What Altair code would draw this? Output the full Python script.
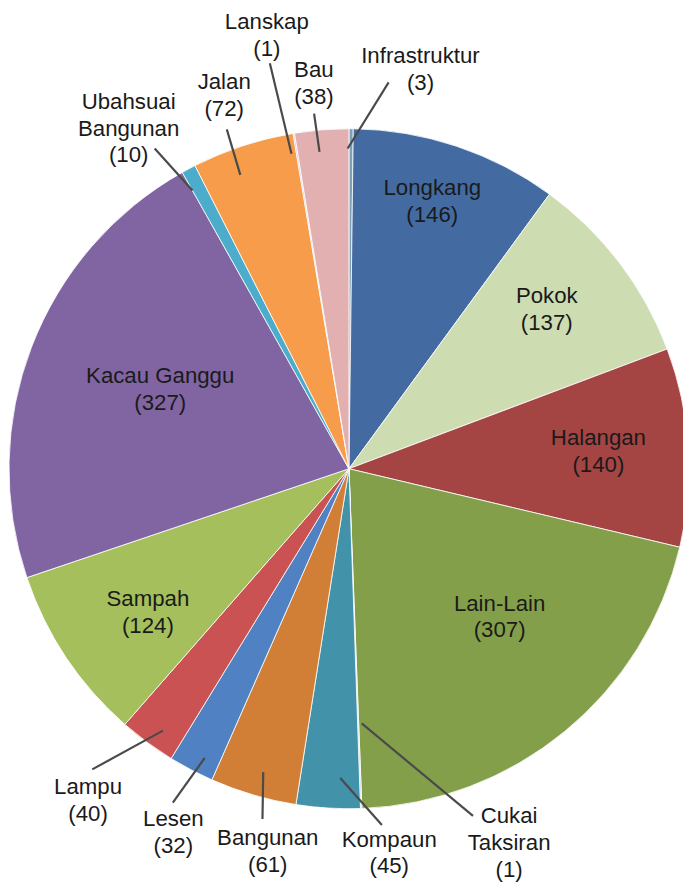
import altair as alt
import pandas as pd

# ---- data (clockwise from 12 o'clock) ----
categories = ["Infrastruktur", "Longkang", "Pokok", "Halangan", "Lain-Lain",
              "Cukai Taksiran", "Kompaun", "Bangunan", "Lesen", "Lampu",
              "Sampah", "Kacau Ganggu", "Ubahsuai Bangunan", "Jalan",
              "Lanskap", "Bau"]
values = [3, 146, 137, 140, 307, 1, 45, 61, 32, 40, 124, 327, 10, 72, 1, 38]
name_lines = [["Infrastruktur"], ["Longkang"], ["Pokok"], ["Halangan"],
              ["Lain-Lain"], ["Cukai", "Taksiran"], ["Kompaun"], ["Bangunan"],
              ["Lesen"], ["Lampu"], ["Sampah"], ["Kacau Ganggu"],
              ["Ubahsuai", "Bangunan"], ["Jalan"], ["Lanskap"], ["Bau"]]
colors = ["#7ba0b9", "#436ba2", "#cddcb1", "#a44443", "#849f4a",
          "#b9cde0", "#4292aa", "#d17f37", "#5081c2", "#cb5252",
          "#a4bf5b", "#8165a3", "#4badcb", "#f69c4a", "#c3b7d8", "#e2b0b0"]

# ---- label layout: angle shift from slice middle (deg) and radius (px) ----
lab_shift = [9.8, -1.1, -1.6, -0.3, -6.0, -21.1, -9.5, -4.4, -1.9, 1.8,
             -1.8, 1.7, -4.8, -0.3, -1.4, -0.6]
lab_radius = [410, 283, 257, 253, 214, 412, 391, 396, 409, 427,
              250, 207, 410, 398, 446, 391]
# leader lines: start shift/radius, end shift/radius (0 radius = no line)
ln_shift0 = [-0.6, 0, 0, 0, 0, -0.8, -1.9, -0.6, -1.15, -1.0, 0, 0, -1.2, -2.1, -1.0, -0.7]
ln_r0 = [324, 0, 0, 0, 0, 258, 313, 319, 327, 325, 0, 0, 323, 317, 324, 322]
ln_shift1 = [5.5, 0, 0, 0, 0, -17.6, -8.8, -2.5, 0.15, 4.1, 0, 0, -3.1, -1.6, -1.7, -1.0]
ln_r1 = [393, 0, 0, 0, 0, 373, 362, 365, 382, 400, 0, 0, 379, 365, 418, 361]

CX, CY, R = 345, 461, 344
LH = 27

df = pd.DataFrame({
    "cat": categories,
    "value": values,
    "idx": list(range(len(categories))),
    "lab_shift": lab_shift,
    "lab_r": lab_radius,
    "s0": ln_shift0, "r0": ln_r0, "s1": ln_shift1, "r1": ln_r1,
})
df["lines"] = [nl + [f"({v})"] for nl, v in zip(name_lines, values)]

base = alt.Chart(df).transform_window(
    cum="sum(value)", sort=[alt.SortField("idx")], frame=[None, 0]
).transform_joinaggregate(
    total="sum(value)"
).transform_calculate(
    mid="(datum.cum - datum.value / 2) / datum.total * 360"
)

pie = alt.Chart(df).mark_arc(radius=R, stroke="white", strokeWidth=0.8).encode(
    theta=alt.Theta("value:Q", stack=True),
    order=alt.Order("idx:Q"),
    color=alt.Color("cat:N", scale=alt.Scale(domain=categories, range=colors), legend=None),
    x=alt.value(CX),
    y=alt.value(CY),
)

lines = base.transform_filter("datum.r0 > 0").transform_calculate(
    a0="(datum.mid + datum.s0) * PI / 180",
    a1="(datum.mid + datum.s1) * PI / 180",
).transform_calculate(
    x0=f"{CX} + datum.r0 * sin(datum.a0)",
    y0=f"{CY} - datum.r0 * cos(datum.a0)",
    x1=f"{CX} + datum.r1 * sin(datum.a1)",
    y1=f"{CY} - datum.r1 * cos(datum.a1)",
).mark_rule(color="#4a4a4a", strokeWidth=2.2).encode(
    x=alt.X("x0:Q", scale=None, axis=None),
    y=alt.Y("y0:Q", scale=None, axis=None),
    x2="x1:Q",
    y2="y1:Q",
)

labels = base.transform_calculate(
    la="(datum.mid + datum.lab_shift) * PI / 180"
).transform_calculate(
    lx=f"{CX} + datum.lab_r * sin(datum.la)",
    ly=f"{CY} - datum.lab_r * cos(datum.la) - (length(datum.lines) - 1) * {LH} / 2",
).mark_text(
    font="Liberation Sans", fontSize=22.5, color="#1a1a1a",
    align="center", baseline="middle", lineHeight=LH,
).encode(
    x=alt.X("lx:Q", scale=None, axis=None),
    y=alt.Y("ly:Q", scale=None, axis=None),
    text=alt.Text("lines"),
)

chart = alt.layer(pie, lines, labels).properties(
    width=683, height=877, padding=0,
    autosize=alt.AutoSizeParams(type="none"),
).configure_view(stroke=None)

chart.save("out.html", embed_options={"renderer": "svg", "actions": False})
